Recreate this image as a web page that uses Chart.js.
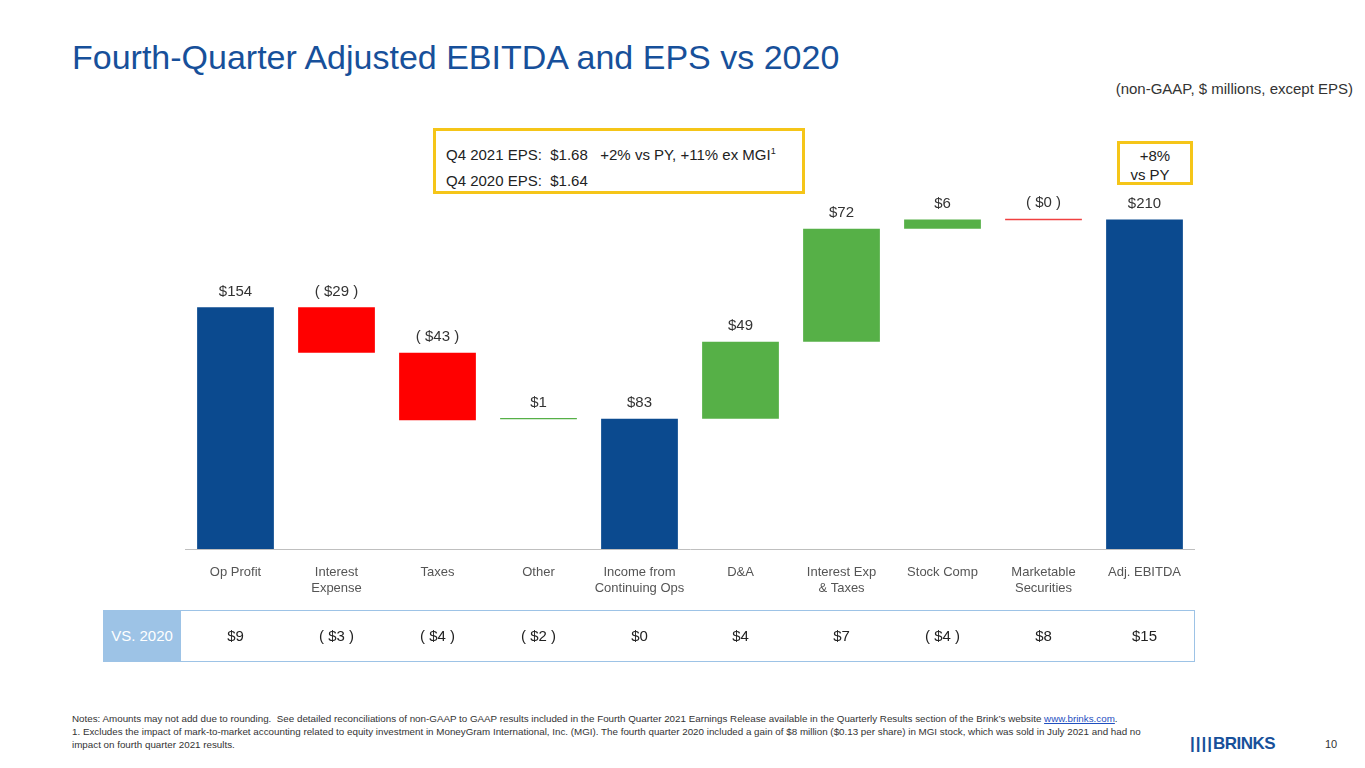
<!DOCTYPE html>
<html><head><meta charset="utf-8">
<script src="https://cdn.jsdelivr.net/npm/chart.js@4"></script>
<style>
body{margin:0;width:1365px;height:768px;background:#fff;font-family:"Liberation Sans",Arial,sans-serif;position:relative;overflow:hidden}
.abs{position:absolute}
</style></head><body>
<div class="abs" style="left:72px;top:38px;font-size:34px;color:#17509A">Fourth-Quarter Adjusted EBITDA and EPS vs 2020</div>
<div class="abs" style="right:12px;top:80px;font-size:15px;color:#333">(non-GAAP, $ millions, except EPS)</div>
<div class="abs" style="left:433px;top:128px;width:372px;height:66px;border:3px solid #F5C518;font-size:15px;color:#222;line-height:26px;padding:7px 0 0 10px;box-sizing:border-box">Q4 2021 EPS:&nbsp; $1.68 &nbsp; +2% vs PY, +11% ex MGI<sup style="font-size:9px">1</sup><br>Q4 2020 EPS:&nbsp; $1.64</div>
<div class="abs" style="left:1117px;top:141px;width:76px;height:44px;border:3px solid #F5C518;box-sizing:border-box;font-size:15px;color:#222;text-align:center;line-height:19px;padding-top:2px">+8%<br><span style="margin-left:-10px">vs PY</span></div>
<div class="abs" style="left:103px;top:610px;width:1092px;height:52px;border:1px solid #9DC3E6;box-sizing:border-box"></div>
<div class="abs" style="left:103px;top:610px;width:78px;height:52px;background:#9DC3E6;color:#fff;font-size:15px;text-align:center;line-height:52px">VS. 2020</div>
<div class="abs" style="left:185px;top:188px;width:1010px;height:478px"><canvas id="c"></canvas></div>
<div class="abs" style="left:72px;top:712px;font-size:9.8px;color:#333;line-height:13px;width:1100px">Notes: Amounts may not add due to rounding.&nbsp; See detailed reconciliations of non-GAAP to GAAP results included in the Fourth Quarter 2021 Earnings Release available in the Quarterly Results section of the Brink’s website <span style="color:#1F4FBF;text-decoration:underline">www.brinks.com</span>.<br>1. Excludes the impact of mark-to-market accounting related to equity investment in MoneyGram International, Inc. (MGI). The fourth quarter 2020 included a gain of $8 million ($0.13 per share) in MGI stock, which was sold in July 2021 and had no impact on fourth quarter 2021 results.</div>
<div class="abs" style="left:1190px;top:734px;font-size:17px;font-weight:bold;color:#17509A;letter-spacing:-0.5px"><span style="letter-spacing:1px">||||</span>BRINKS</div>
<div class="abs" style="left:1325px;top:738px;font-size:11px;color:#333">10</div>
<script>
const categories=[["Op Profit"],["Interest","Expense"],["Taxes"],["Other"],["Income from","Continuing Ops"],["D&A"],["Interest Exp","& Taxes"],["Stock Comp"],["Marketable","Securities"],["Adj. EBITDA"]];
const ranges=[[0,154],[125,154],[82,125],[82.6,83.4],[0,83],[83,132],[132,204],[204,210],[209.4,210.4],[0,210]];
const valueLabels=["$154","( $29 )","( $43 )","$1","$83","$49","$72","$6","( $0 )","$210"];
const vs2020=["$9","( $3 )","( $4 )","( $2 )","$0","$4","$7","( $4 )","$8","$15"];
const barColors=["#0B4A8F","#FF0000","#FF0000","#56B047","#0B4A8F","#56B047","#56B047","#56B047","#F04040","#0B4A8F"];
const labelPlugin={id:'lbl',afterDatasetsDraw(ch){
 const ctx=ch.ctx,meta=ch.getDatasetMeta(0),y=ch.scales.y,x=ch.scales.x;
 ctx.save();ctx.font='15px "Liberation Sans",Arial';ctx.fillStyle='#333';ctx.textAlign='center';ctx.textBaseline='bottom';
 meta.data.forEach((b,i)=>{ctx.fillText(valueLabels[i],b.x,y.getPixelForValue(ranges[i][1])-8);});
 ctx.textBaseline='middle';ctx.fillStyle='#222';
 vs2020.forEach((v,i)=>ctx.fillText(v,x.getPixelForValue(i),ch.chartArea.bottom+88));
 ctx.restore();}};
new Chart(document.getElementById('c'),{type:'bar',
 data:{labels:categories,datasets:[{data:ranges,backgroundColor:barColors,barPercentage:0.76,categoryPercentage:1}]},
 options:{responsive:true,maintainAspectRatio:false,animation:false,
  layout:{padding:{top:0,bottom:67,left:0,right:0}},
  plugins:{legend:{display:false},tooltip:{enabled:false}},
  scales:{y:{display:false,min:0,max:230},
   x:{grid:{display:false},border:{display:true,color:'#BFBFBF',width:1},
      ticks:{color:'#555',font:{size:13,family:'"Liberation Sans",Arial'},padding:8,maxRotation:0,autoSkip:false},
      afterFit(s){s.height=50;}}}},
 plugins:[labelPlugin]});
</script></body></html>
